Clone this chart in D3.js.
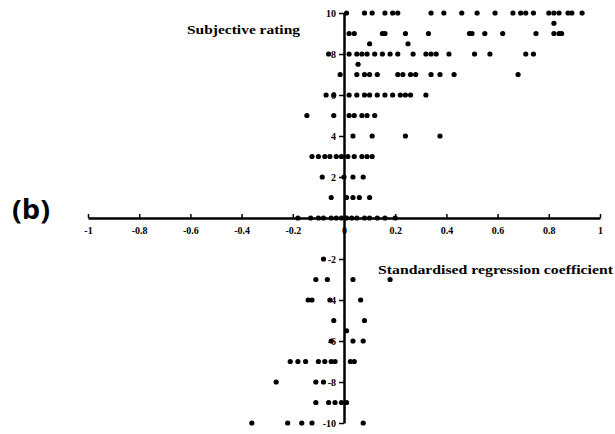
<!DOCTYPE html>
<html>
<head>
<meta charset="utf-8">
<script src="https://cdn.jsdelivr.net/npm/d3@7"></script>
<style>
  body { margin: 0; background: #fff; }
  svg { display: block; }
  .tick text { font-family: "Liberation Serif", serif; font-weight: bold; font-size: 10px; fill: #000; }
</style>
</head>
<body>
<div id="chart"></div>
<script>
// subjective rating (y) for each row of points, and the coefficients (x) of each row
const ratings = [10, 9.5, 9, 8.5, 8, 7.5, 7, 6, 5, 4, 3, 2, 1, 0, -2, -3, -4, -5, -5.5, -6, -7, -8, -9, -10];
const coefs = [
  [0.01, 0.08, 0.11, 0.16, 0.19, 0.21, 0.34, 0.39, 0.46, 0.52, 0.59, 0.66, 0.69, 0.71, 0.74, 0.8, 0.82, 0.84, 0.875, 0.89, 0.93],
  [0.82],
  [0.02, 0.04, 0.15, 0.16, 0.24, 0.33, 0.49, 0.5, 0.55, 0.62, 0.75, 0.82, 0.84, 0.85],
  [0.1, 0.25],
  [-0.06, 0.02, 0.05, 0.07, 0.09, 0.12, 0.15, 0.18, 0.21, 0.27, 0.32, 0.34, 0.36, 0.41, 0.51, 0.57, 0.71, 0.74],
  [0.055],
  [-0.015, 0.05, 0.08, 0.1, 0.13, 0.21, 0.23, 0.26, 0.28, 0.34, 0.375, 0.43, 0.68],
  [-0.07, -0.04, 0.02, 0.05, 0.08, 0.1, 0.13, 0.16, 0.19, 0.22, 0.24, 0.26, 0.32],
  [-0.145, -0.04, 0.02, 0.04, 0.07, 0.09, 0.12],
  [0.035, 0.11, 0.24, 0.375],
  [-0.125, -0.1, -0.075, -0.055, -0.03, -0.01, 0.015, 0.04, 0.07, 0.09, 0.11],
  [-0.085, 0, 0.035, 0.075],
  [-0.05, 0.01, 0.035, 0.06, 0.1],
  [-0.18, -0.13, -0.1, -0.08, -0.05, -0.03, -0.01, 0.01, 0.03, 0.05, 0.08, 0.1, 0.13, 0.16, 0.2],
  [-0.08],
  [-0.11, -0.065, 0.035, 0.18],
  [-0.14, -0.125, -0.055, 0.065],
  [-0.04, 0.08],
  [0.01],
  [-0.05, 0.035, 0.075],
  [-0.21, -0.18, -0.15, -0.1, -0.075, -0.05, -0.035, 0.025, 0.04],
  [-0.265, -0.11, -0.08],
  [-0.11, -0.06, -0.035, -0.01, 0.01],
  [-0.36, -0.22, -0.165, -0.125, 0.075]
];
const xTicks = [-1, -0.8, -0.6, -0.4, -0.2, 0, 0.2, 0.4, 0.6, 0.8, 1];
const yTicks = [-10, -8, -6, -4, -2, 2, 4, 6, 8, 10];

const width = 615, height = 434;
const svg = d3.select("#chart").append("svg")
  .attr("width", width)
  .attr("height", height);

const x = d3.scaleLinear().domain([-1, 1]).range([88, 600]);
const y = d3.scaleLinear().domain([-10, 10]).range([423, 13]);

const points = ratings.flatMap((r, i) => coefs[i].map(c => ({ r, c })));

// x axis through y = 0, ticks pointing up
const gx = svg.append("g")
  .attr("transform", `translate(0,${y(0)})`)
  .call(d3.axisBottom(x).tickValues(xTicks).tickFormat(d => String(d))
    .tickSizeInner(-4).tickSizeOuter(0).tickPadding(9));
gx.select(".domain").attr("stroke-width", 2.5);
gx.selectAll(".tick line").attr("stroke-width", 1.5);

// y axis through x = 0
const gy = svg.append("g")
  .attr("transform", `translate(${x(0)},0)`)
  .call(d3.axisLeft(y).tickValues(yTicks).tickFormat(d => String(d))
    .tickSizeInner(5).tickSizeOuter(0).tickPadding(3));
gy.select(".domain").attr("stroke-width", 2.5);
gy.selectAll(".tick line").attr("stroke-width", 1.5);

svg.append("g")
  .selectAll("circle")
  .data(points)
  .join("circle")
  .attr("cx", d => x(d.c))
  .attr("cy", d => y(d.r))
  .attr("r", 2.6)
  .attr("fill", "#000");

// titles
svg.append("text")
  .attr("x", 187).attr("y", 34)
  .attr("font-family", "Liberation Serif, serif")
  .attr("font-weight", "bold")
  .attr("font-size", 12)
  .attr("textLength", 113).attr("lengthAdjust", "spacingAndGlyphs")
  .text("Subjective rating");

svg.append("text")
  .attr("x", 378).attr("y", 274)
  .attr("font-family", "Liberation Serif, serif")
  .attr("font-weight", "bold")
  .attr("font-size", 12)
  .attr("textLength", 235).attr("lengthAdjust", "spacingAndGlyphs")
  .text("Standardised regression coefficient");

svg.append("text")
  .attr("x", 12).attr("y", 219)
  .attr("font-family", "Open Sans, sans-serif")
  .attr("font-weight", "bold")
  .attr("font-size", 26)
  .attr("textLength", 38).attr("lengthAdjust", "spacingAndGlyphs")
  .text("(b)");
</script>
</body>
</html>
